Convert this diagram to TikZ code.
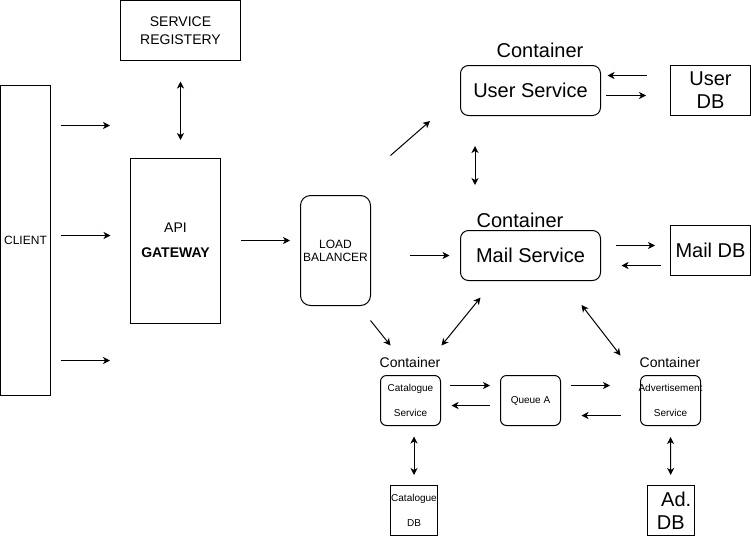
\documentclass[tikz,border=0pt]{standalone}
\usepackage{fontspec}
\setmainfont{Liberation Sans}
\usetikzlibrary{arrows.meta}
\begin{document}
\begin{tikzpicture}[x=1pt,y=-1pt,line width=1pt,
    box/.style={draw,inner sep=0pt,outer sep=0pt},
    rbox/.style={box,rounded corners=8pt},
    arr/.style={-{Stealth[length=7pt,width=7pt,inset=2pt]}},
    dbl/.style={{Stealth[length=7pt,width=7pt,inset=2pt]}-{Stealth[length=7pt,width=7pt,inset=2pt]}},
    big/.style={font=\fontsize{20}{23}\selectfont},
    mid/.style={font=\fontsize{14}{18}\selectfont},
    sml/.style={font=\fontsize{12}{13}\selectfont},
    tny/.style={font=\fontsize{10}{25}\selectfont}]
    \useasboundingbox (0,0) rectangle (751,536);
    \node[box,mid,align=center,minimum width=120pt,minimum height=60pt] (reg) at (180.5,30.5) {SERVICE\\REGISTERY};
    \node[box,sml,minimum width=50pt,minimum height=310pt] (client) at (25.5,240) {CLIENT};
    \node[box,font=\fontsize{14}{25}\selectfont,align=center,minimum width=90pt,minimum height=165pt] (gw) at (175.5,240.5) {API\\\textbf{GATEWAY}};
    \node[rbox,rounded corners=10pt,sml,align=center,minimum width=70pt,minimum height=110pt] (lb) at (335.5,250.5) {LOAD\\BALANCER};
    \node[rbox,big,minimum width=140pt,minimum height=50pt] (us) at (530.5,90.5) {User Service};
    \node[box,big,align=center,minimum width=80pt,minimum height=50pt] (udb) at (710.5,90.5) {User\\DB};
    \node[rbox,big,minimum width=140pt,minimum height=50pt] (ms) at (530.5,255.5) {Mail Service};
    \node[box,big,minimum width=80pt,minimum height=50pt] (mdb) at (710.5,250.5) {Mail DB};
    \node[rbox,rounded corners=6pt,tny,align=center,minimum width=60pt,minimum height=50pt] (cat) at (410.5,400.5) {Catalogue\\Service};
    \node[rbox,rounded corners=6pt,tny,minimum width=60pt,minimum height=50pt] (qa) at (530.5,400.5) {Queue A};
    \node[rbox,rounded corners=6pt,tny,align=center,minimum width=60pt,minimum height=50pt] (ad) at (670.5,400.5) {\makebox[0pt]{Advertisement}\\Service};
    \node[box,tny,align=center,minimum width=47pt,minimum height=50pt] (cdb) at (414,510.5) {Catalogue\\DB};
    \node[box,font=\fontsize{20}{23}\selectfont,align=center,minimum width=47pt,minimum height=50pt] (adb) at (670.7,510.5) {\hspace*{11pt}Ad.\\DB};
    \node[big] (usC) at (540,50) {Container};
    \node[big] (msC) at (520,220) {Container};
    \node[mid] (catC) at (410,362) {Container};
    \node[mid] (adC) at (670,362) {Container};
    \coordinate (in1) at (110,125.5);
    \coordinate (in3) at (110,360.5);
    \draw[arr,shorten <=10pt] (client.east |- in1) -- (in1);
    \draw[arr,shorten <=10pt,shorten >=20pt] ([yshift=4.5pt]client.east) -- ([yshift=4.5pt]client.east -| gw.west);
    \draw[arr,shorten <=10pt] (client.east |- in3) -- (in3);
    \draw[dbl,shorten <=21pt,shorten >=18pt] (reg.south) -- (reg.south |- gw.north);
    \draw[arr,shorten <=20pt,shorten >=10.5pt] (gw.east) -- (gw.east -| lb.west);
    \draw[arr] ([shift={(20,-40)}]lb.north east) -- ([shift={(-30.5,30.5)}]us.west);
    \draw[arr,shorten <=39.5pt,shorten >=11pt] (lb.east |- ms.west) -- (ms.west);
    \draw[arr] ([shift={(0,15)}]lb.south east) -- ([shift={(10,-30)}]cat.north west);
    \draw[arr,shorten <=24pt,shorten >=7pt] ([yshift=15pt]udb.west) -- ([yshift=15pt]us.east);
    \draw[arr,shorten <=5.5pt,shorten >=24.5pt] ([yshift=-5pt]us.east) -- ([yshift=-5pt]udb.west);
    \draw[dbl,shorten <=30.5pt,shorten >=45.5pt] ([xshift=-55.5pt]us.south) -- ([xshift=-55.5pt]ms.north);
    \draw[arr,shorten <=15.5pt,shorten >=15.5pt] ([yshift=10pt]ms.east) -- ([yshift=5pt]mdb.west);
    \draw[arr,shorten <=9.5pt,shorten >=21pt] ([yshift=-15pt]mdb.west) -- ([yshift=-10pt]ms.east);
    \draw[dbl] ([shift={(-50,17)}]ms.south) -- ([shift={(1,-30)}]cat.north east);
    \draw[dbl] ([shift={(51,24.5)}]ms.south) -- ([shift={(-20,-20)}]ad.north west);
    \draw[arr,shorten <=9.5pt,shorten >=10.5pt] ([yshift=15pt]cat.east) -- ([yshift=15pt]qa.west);
    \draw[arr,shorten <=10.5pt,shorten >=11pt] ([yshift=-5pt]qa.west) -- ([yshift=-5pt]cat.east);
    \draw[arr,shorten <=10pt,shorten >=30.5pt] ([yshift=15pt]qa.east) -- ([yshift=15pt]ad.west);
    \draw[arr,shorten <=20pt,shorten >=21pt] ([yshift=-15pt]ad.west) -- ([yshift=-15pt]qa.east);
    \draw[dbl,shorten <=11pt,shorten >=10.5pt] (cat.south -| cdb.north) -- (cdb.north);
    \draw[dbl,shorten <=11.5pt,shorten >=10.5pt] (ad.south) -- (adb.north);
\end{tikzpicture}
\end{document}
